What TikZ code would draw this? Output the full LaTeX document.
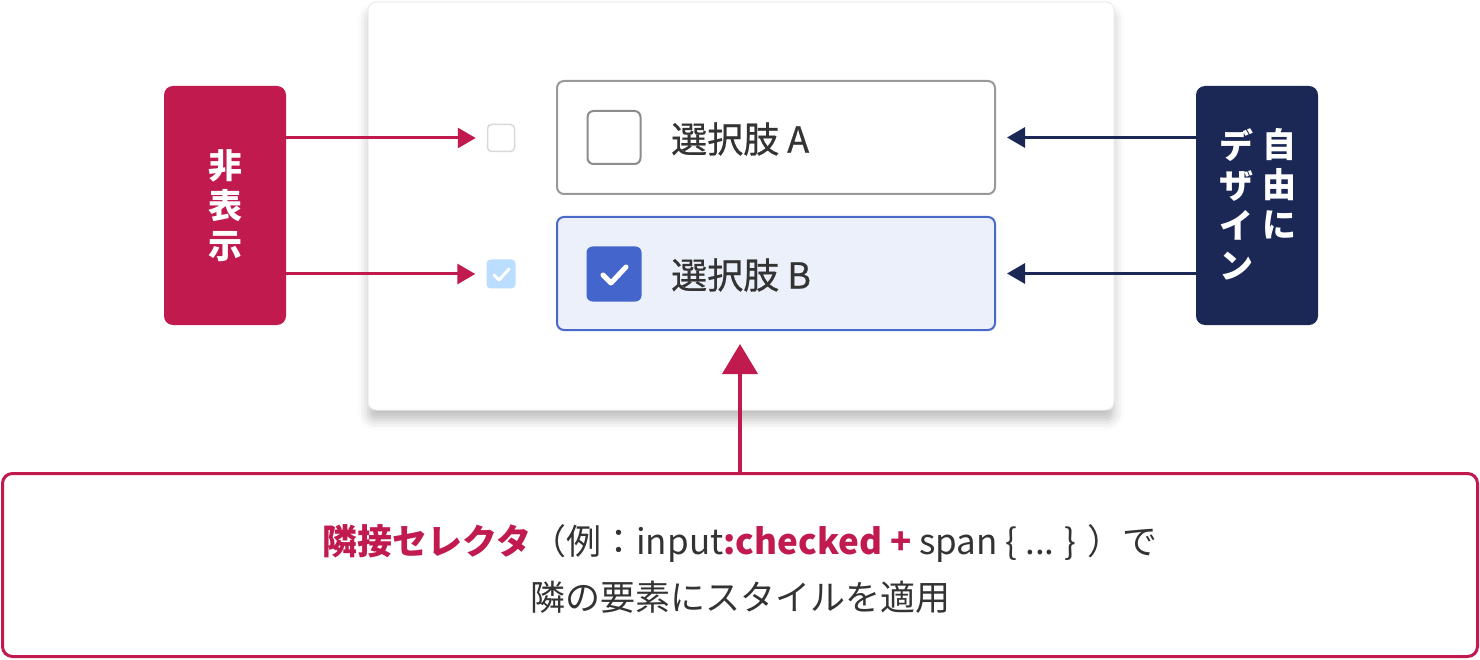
\documentclass[tikz,border=0pt]{standalone}
\usepackage{fontspec}
\setmainfont{Noto Sans CJK JP}
\newfontfamily\medfont[FakeBold=0.6]{Noto Sans CJK JP}
\usetikzlibrary{arrows.meta,shadows.blur,calc}
\definecolor{crim}{HTML}{C01A4F}
\definecolor{navy}{HTML}{1B2856}
\definecolor{txt}{HTML}{333333}
\definecolor{bluebd}{HTML}{4A68C8}
\definecolor{bluefill}{HTML}{ECF0FA}
\definecolor{chk}{HTML}{4466CC}
\definecolor{lchk}{HTML}{BBDDFF}
\tikzset{
  box/.style={rectangle, rounded corners=#1, inner sep=0pt},
  box/.default=6pt,
  card/.style={box=8pt, fill=white, draw=black!8, line width=1pt,
    blur shadow={shadow xshift=0pt, shadow yshift=-10pt, shadow blur radius=10pt, shadow opacity=25}},
  optbox/.style={box=7pt, line width=2pt, minimum width=438pt, minimum height=113pt},
  label/.style={box=9pt, minimum width=122pt, minimum height=239pt, text=white,
    font=\fontsize{34}{40}\selectfont\bfseries, align=center},
  optlabel/.style={anchor=west, text=txt, font=\medfont\fontsize{36}{40}\selectfont, inner sep=0pt},
  crarrow/.style={draw=crim, line width=3pt, -{Triangle[length=18pt,width=20pt]}},
  nvarrow/.style={draw=navy, line width=3pt, -{Triangle[length=18pt,width=20pt]}},
}
\begin{document}
\begin{tikzpicture}[x=1pt,y=-1pt]
\useasboundingbox (0,0) rectangle (1480,660);
% card
\node[card, minimum width=746pt, minimum height=408pt] (card) at (741,206) {};
% options
\node[optbox, draw=black!40, fill=white] (optA) at (776,137.5) {};
\node[optbox, draw=bluebd, fill=bluefill] (optB) at (776,273.5) {};
% big checkboxes
\node[box=6pt, draw=black!45, line width=2pt, fill=white, minimum size=53pt] (bigA) at (614,137.5) {};
\node[box=6pt, fill=chk, minimum size=55pt] (bigB) at (614,274) {};
\draw[white, line width=5pt, line cap=round, line join=round]
  ($(bigB)+(-11,1)$) -- ($(bigB)+(-3,9)$) -- ($(bigB)+(12,-7)$);
% small checkboxes
\node[box=4pt, draw=black!15, line width=1.5pt, fill=white, minimum size=27pt] (smA) at (501,138) {};
\node[box=4pt, fill=lchk, minimum size=29pt] (smB) at (501,274) {};
\draw[white, line width=3pt, line cap=round, line join=round]
  ($(smB)+(-7,1)$) -- ($(smB)+(-2,6)$) -- ($(smB)+(8,-5)$);
% option labels
\node[optlabel] (labA) at (671,139) {選択肢 A};
\node[optlabel] (labB) at (671,275) {選択肢 B};
% left label
\node[label, fill=crim] (hide) at (225,205.5) {非\\表\\示};
% right label
\node[box=9pt, fill=navy, minimum width=122pt, minimum height=239pt] (design) at (1257,205.5) {};
\node[text=white, font=\fontsize{34}{40}\selectfont\bfseries, align=center, anchor=north, inner sep=0pt]
  (col1) at (1279,128) {自\\由\\に};
\node[text=white, font=\fontsize{34}{40}\selectfont\bfseries, align=center, anchor=north, inner sep=0pt]
  (col2) at (1236,128) {デ\\ザ\\イ\\ン};
% arrows
\coordinate (hA) at (hide.east |- smA);
\coordinate (hB) at (hide.east |- smB);
\draw[crarrow, shorten >=11pt] (hA) -- (smA.west);
\draw[crarrow, shorten >=11pt] (hB) -- (smB.west);
\coordinate (dA) at (design.west |- optA);
\coordinate (dB) at (design.west |- optB);
\draw[nvarrow, shorten >=11pt] (dA) -- (optA.east);
\draw[nvarrow, shorten >=11pt] (dB) -- (optB.east);
% bottom box
\node[box=10pt, draw=crim, line width=3pt, fill=white, minimum width=1475pt, minimum height=183pt] (bottom) at (740,565) {};
\coordinate (up) at (bottom.north |- optB.south);
\draw[draw=crim, line width=4pt, -{Triangle[length=30pt,width=35pt]}, shorten >=13pt] (bottom.north) -- (up);
\node[text=txt, font=\fontsize{35}{56}\selectfont, align=center, inner sep=0pt] (btext) at (740,569)
  {{\bfseries\color{crim}隣接セレクタ}（例：input{\bfseries\color{crim}:checked +} span \{ ... \} ）で\\隣の要素にスタイルを適用};
\end{tikzpicture}
\end{document}
